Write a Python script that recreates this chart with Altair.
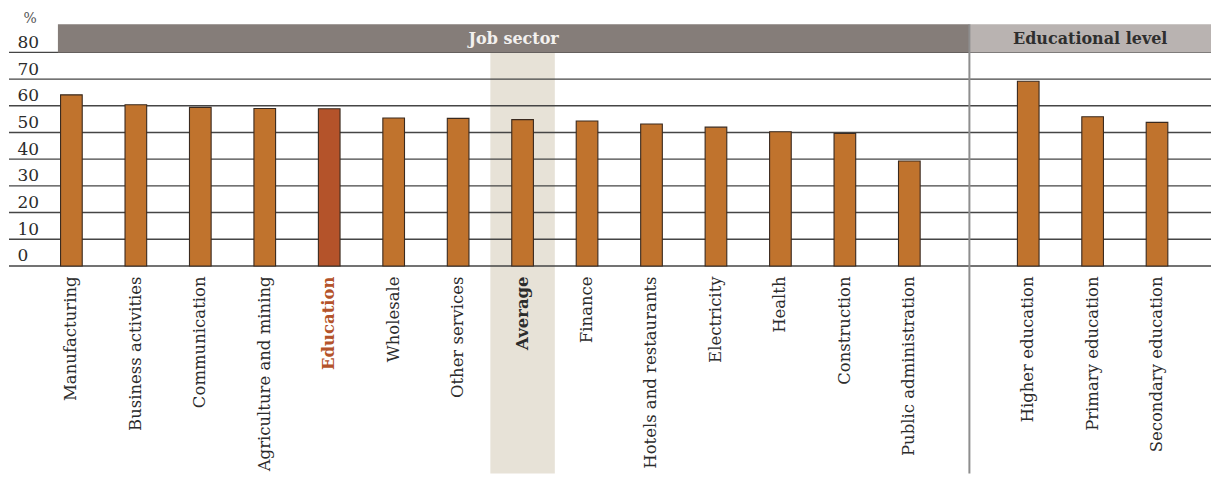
import altair as alt
import pandas as pd

# ---- data ----
sectors = ["Manufacturing", "Business activities", "Communication",
           "Agriculture and mining", "Education", "Wholesale", "Other services",
           "Average", "Finance", "Hotels and restaurants", "Electricity",
           "Health", "Construction", "Public administration"]
sector_values = [64.1, 60.4, 59.4, 59.0, 58.9, 55.4, 55.3, 54.8, 54.3,
                 53.2, 52.0, 50.3, 49.6, 39.3]
levels = ["Higher education", "Primary education", "Secondary education"]
level_values = [69.2, 55.9, 53.8]
group_titles = ["Job sector", "Educational level"]
y_ticks = [0, 10, 20, 30, 40, 50, 60, 70, 80]
highlight = "Education"
average = "Average"
unit = "%"

# ---- styling ----
FONT = "DejaVu Serif"
Y_DOMAIN = [0, 90.5]
H = 242
W_LEFT = 962
W_RIGHT = 242
BAR = "#c0732d"
BAR_HI = "#b4532a"
GRID = "#454545"
BELOW = 450  # how far the highlight band and divider reach below the plot top

left_df = pd.DataFrame({"cat": sectors, "value": sector_values})
right_df = pd.DataFrame({"cat": levels, "value": level_values})
ticks_df = pd.DataFrame({"t": y_ticks})

ys = alt.Scale(domain=Y_DOMAIN, nice=False, zero=False)


def x_axis():
    return alt.Axis(
        title=None, labelAngle=270, labelPadding=10, ticks=False, domain=False,
        labelFont=FONT, labelFontSize=16.5, labelLimit=0,
        labelColor={"expr": f"datum.value == '{highlight}' ? '{BAR_HI}' : '#2b2b2b'"},
        labelFontWeight={"expr": f"(datum.value == '{highlight}' || datum.value == '{average}') ? 'bold' : 'normal'"},
    )


left_y_axis = alt.Axis(
    values=y_ticks, grid=False, ticks=False, domain=False,
    labelAlign="left", labelPadding=-8, labelBaseline="alphabetic", labelOffset=-5,
    labelFont=FONT, labelFontSize=17, labelColor="#2b2b2b",
    title=unit, titleAngle=0, titleAlign="left", titleBaseline="alphabetic",
    titleX=14, titleY=-2, titleFont=FONT, titleFontSize=14, titleFontWeight="normal",
    titleColor="#555555",
)


def panel(df, domain, width, title, header_x, header_color, text_color, y_axis,
          with_band, with_divider, pad_outer, align):
    xs = alt.Scale(domain=domain, paddingInner=0, paddingOuter=pad_outer, align=align)
    X = alt.X("cat:N", scale=xs, axis=x_axis(), sort=domain)
    layers = []
    if with_band:
        band = alt.Chart(df).transform_filter(alt.datum.cat == average).mark_rect(
            color="#e7e2d7").encode(
            x=X, y=alt.Y(datum=80, scale=ys, axis=y_axis), y2=alt.value(BELOW))
        layers.append(band)
    grid = alt.Chart(ticks_df).mark_rule(color=GRID, strokeWidth=1.4).encode(
        y=alt.Y("t:Q", scale=ys, axis=y_axis))
    layers.append(grid)
    header = alt.Chart(df).transform_filter(alt.datum.cat == domain[0]).mark_rect(
        color=header_color).encode(
        x=alt.value(header_x), x2=alt.value(width),
        y=alt.Y(datum=80, scale=ys, axis=y_axis), y2=alt.value(0))
    layers.append(header)
    htext = alt.Chart(pd.DataFrame({"g": [title]})).mark_text(
        font=FONT, fontSize=16, fontWeight="bold", color=text_color,
        baseline="middle", align="center").encode(
        x=alt.value((header_x + width) / 2), y=alt.value(15), text="g:N")
    layers.append(htext)
    bars = alt.Chart(df).mark_bar(
        width=alt.RelativeBandSize(0.336), stroke="#3a2a1f", strokeWidth=1.1).encode(
        x=X, y=alt.Y("value:Q", scale=ys, axis=y_axis),
        color=alt.condition(alt.datum.cat == highlight, alt.value(BAR_HI), alt.value(BAR)))
    layers.append(bars)
    if with_divider:
        div = alt.Chart(df).transform_filter(alt.datum.cat == domain[0]).mark_rule(
            color="#8e8e8e", strokeWidth=2).encode(
            x=alt.value(0), y=alt.value(0), y2=alt.value(BELOW))
        layers.append(div)
    return alt.layer(*layers).properties(width=width, height=H)


left = panel(left_df, sectors, W_LEFT, group_titles[0], 49, "#857d79", "#f3f1ef",
             left_y_axis, True, False, 0.45, 0.52)
right = panel(right_df, levels, W_RIGHT, group_titles[1], 0, "#b9b3b1", "#2e2e2e",
              None, False, True, 0.376, 0.55)

chart = alt.hconcat(left, right, spacing=0, bounds="flush").properties(
    padding={"left": 0, "top": 3, "right": 0, "bottom": 0}
).configure_view(stroke=None)

chart.save("out.html", embed_options={"renderer": "svg", "actions": False})
